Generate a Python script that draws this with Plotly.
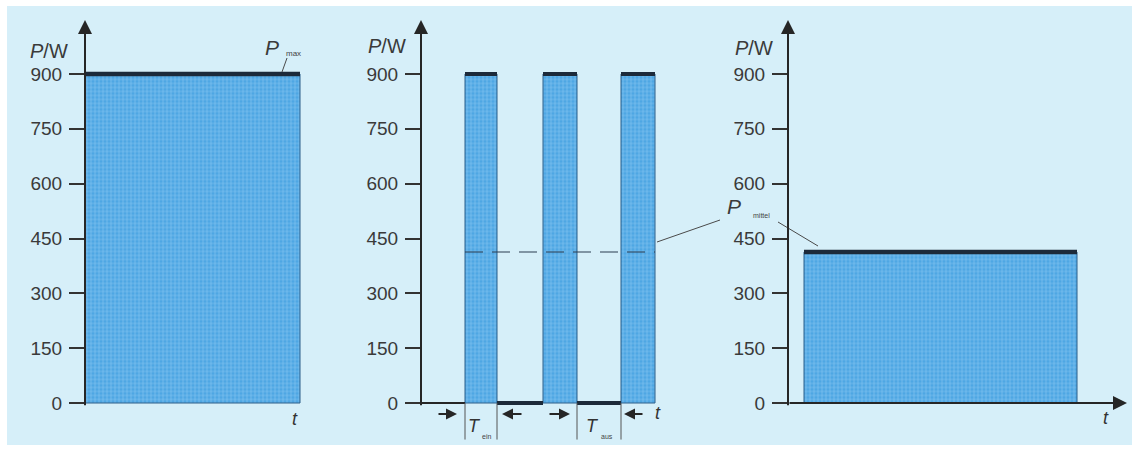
import plotly.graph_objects as go

# ---------------- data ----------------
y_ticks = [0, 150, 300, 450, 600, 750, 900]
P_MAX = 900
P_MITTEL = 413
p1_t = [0.0, 10.0]                 # panel 1: continuous operation
p2_on_start = [2.2, 6.1, 10.0]     # panel 2: pulsed operation
p2_on_end = [3.8, 7.8, 11.7]
p3_t = [0.8, 14.45]                # panel 3: mean power

# ---------------- geometry helpers ----------------
W, H = 1132, 455
def PX(p):
    return p / W
def PY(p):
    return 1 - p / H

k = (403 - 74) / 900.0            # px per W
Y_RANGE = [-140, 1000]
ydom = [PY(403 + 140 * k), PY(403 - 1000 * k)]

FONT = "Liberation Sans, Arial, sans-serif"
DARK = "#1c2a3a"
AX = "#262626"
BAR = dict(color="#4ea7e4", line=dict(color="#2b5f8a", width=1),
           pattern=dict(shape="+", fillmode="overlay", fgcolor="#8fcbf1",
                        fgopacity=0.8, size=4, solidity=0.3))

fig = go.Figure()

# panel 1
fig.add_trace(go.Bar(x=[(p1_t[0] + p1_t[1]) / 2], y=[P_MAX], width=[p1_t[1] - p1_t[0]],
                     base=0, marker=BAR, xaxis="x", yaxis="y", showlegend=False))
fig.add_trace(go.Scatter(x=p1_t, y=[P_MAX, P_MAX], mode="lines",
                         line=dict(color=DARK, width=4.5), xaxis="x", yaxis="y", showlegend=False))

# panel 2
fig.add_trace(go.Bar(x=[(s + e) / 2 for s, e in zip(p2_on_start, p2_on_end)],
                     y=[P_MAX] * len(p2_on_start),
                     width=[e - s for s, e in zip(p2_on_start, p2_on_end)],
                     base=0, marker=BAR, xaxis="x2", yaxis="y2", showlegend=False))
tx, ty = [], []
for s, e in zip(p2_on_start, p2_on_end):
    tx += [s, e, None]; ty += [P_MAX, P_MAX, None]
fig.add_trace(go.Scatter(x=tx, y=ty, mode="lines", line=dict(color=DARK, width=4),
                         xaxis="x2", yaxis="y2", showlegend=False))
bx, by = [], []
for e, s in zip(p2_on_end[:-1], p2_on_start[1:]):
    bx += [e, s, None]; by += [0, 0, None]
fig.add_trace(go.Scatter(x=bx, y=by, mode="lines", line=dict(color=DARK, width=4),
                         xaxis="x2", yaxis="y2", showlegend=False))
fig.add_trace(go.Scatter(x=[0, p2_on_start[0]], y=[0, 0], mode="lines",
                         line=dict(color=AX, width=2), xaxis="x2", yaxis="y2", showlegend=False))
fig.add_trace(go.Scatter(x=[p2_on_start[0], p2_on_end[-1]], y=[P_MITTEL, P_MITTEL], mode="lines",
                         line=dict(color="#2a3d50", width=1.2, dash="18px,9px"),
                         xaxis="x2", yaxis="y2", showlegend=False))
# dimension lines for T_ein / T_aus
vb = [p2_on_start[0], p2_on_end[0], p2_on_end[1], p2_on_start[2]]
vx, vy = [], []
for v in vb:
    vx += [v, v, None]; vy += [0, -100, None]
fig.add_trace(go.Scatter(x=vx, y=vy, mode="lines", line=dict(color="#555", width=1),
                         xaxis="x2", yaxis="y2", showlegend=False))

# panel 3
fig.add_trace(go.Bar(x=[(p3_t[0] + p3_t[1]) / 2], y=[P_MITTEL], width=[p3_t[1] - p3_t[0]],
                     base=0, marker=BAR, xaxis="x3", yaxis="y3", showlegend=False))
fig.add_trace(go.Scatter(x=p3_t, y=[P_MITTEL, P_MITTEL], mode="lines",
                         line=dict(color=DARK, width=4.5), xaxis="x3", yaxis="y3", showlegend=False))

# ---------------- axes ----------------
def xax(dom, rng):
    return dict(domain=dom, range=rng, showline=False, showgrid=False, zeroline=False,
                showticklabels=False, ticks="", fixedrange=True)

def yax(anchor):
    return dict(domain=ydom, range=Y_RANGE, anchor=anchor, tickvals=y_ticks,
                ticktext=[str(v) for v in y_ticks], ticks="outside", ticklen=15,
                tickwidth=2, tickcolor="#333", showline=False, showgrid=False,
                zeroline=False, ticklabelstandoff=3,
                tickfont=dict(family=FONT, size=19, color="#3a3a3a"), fixedrange=True)

fig.update_layout(
    width=W, height=H, autosize=False,
    margin=dict(l=0, r=0, t=0, b=0),
    paper_bgcolor="white", plot_bgcolor="rgba(0,0,0,0)",
    bargap=0,
    xaxis=xax([PX(85), PX(85 + 11 * 21.5)], [0, 11]),
    xaxis2=xax([PX(421), PX(421 + 250)], [0, 12.5]),
    xaxis3=xax([PX(788), 1.0], [0, 17.2]),
    yaxis=yax("x"), yaxis2=yax("x2"), yaxis3=yax("x3"),
)

# background
shapes = [dict(type="rect", xref="paper", yref="paper", x0=PX(7), x1=1.0, y0=PY(445), y1=PY(6),
               fillcolor="#d6eff9", line=dict(width=0), layer="below")]
# leader lines
for (x0, y0, x1, y1) in [(287, 58, 282, 72), (657, 242, 720, 220), (778, 222, 818, 246)]:
    shapes.append(dict(type="line", xref="paper", yref="paper", x0=PX(x0), y0=PY(y0),
                       x1=PX(x1), y1=PY(y1), line=dict(color="#4a4a4a", width=1)))
fig.update_layout(shapes=shapes)

ann = []
# axis arrows
for xr, yr in [("x", "y"), ("x2", "y2"), ("x3", "y3")]:
    ann.append(dict(xref=xr, yref=yr, x=0, y=1048, axref=xr, ayref=yr, ax=0, ay=-10,
                    showarrow=True, arrowhead=2, arrowsize=1.4, arrowwidth=2,
                    arrowcolor=AX, text=""))
ann.append(dict(xref="x3", yref="y3", x=16.95, y=0, axref="x3", ayref="y3", ax=0, ay=0,
                showarrow=True, arrowhead=2, arrowsize=1.4, arrowwidth=2,
                arrowcolor=AX, text=""))
# dimension arrows in panel 2
dims = [(p2_on_start[0] - 0.4, -20), (p2_on_end[0] + 0.25, 21),
        (p2_on_end[1] - 0.35, -22), (p2_on_start[2] + 0.15, 20)]
for head, off in dims:
    ann.append(dict(xref="x2", yref="y2", x=head, y=-30, ax=off, ay=0,
                    showarrow=True, arrowhead=2, arrowsize=1.1, arrowwidth=2,
                    arrowcolor=AX, text=""))

def txt(x, y, s, size, italic=False, color="#333"):
    if italic:
        s = "<i>" + s + "</i>"
    ann.append(dict(xref="paper", yref="paper", x=PX(x), y=PY(y), text=s, showarrow=False,
                    xanchor="center", yanchor="middle",
                    font=dict(family=FONT, size=size, color=color)))

for cx, cy in [(49, 51), (387, 46), (754, 48)]:
    txt(cx, cy, "<i>P</i>/W", 20, color="#3a3a3a")
txt(295, 419, "t", 18, True)
txt(658, 413, "t", 18, True)
txt(1106, 418, "t", 18, True)
txt(272, 48, "P", 21, True, "#3a3a3a")
txt(293, 53, "max", 8, False, "#444")
txt(734, 207, "P", 21, True, "#3a3a3a")
txt(761, 215, "mittel", 7, False, "#444")
txt(474, 426, "T", 18, True)
txt(486, 436, "ein", 7, False, "#444")
txt(593, 426, "T", 18, True)
txt(607, 436, "aus", 7, False, "#444")

fig.update_layout(annotations=ann)

fig.write_html("out.html", config={"displayModeBar": False, "staticPlot": True},
               post_script="document.body.style.margin='0';document.body.style.overflow='hidden';")
